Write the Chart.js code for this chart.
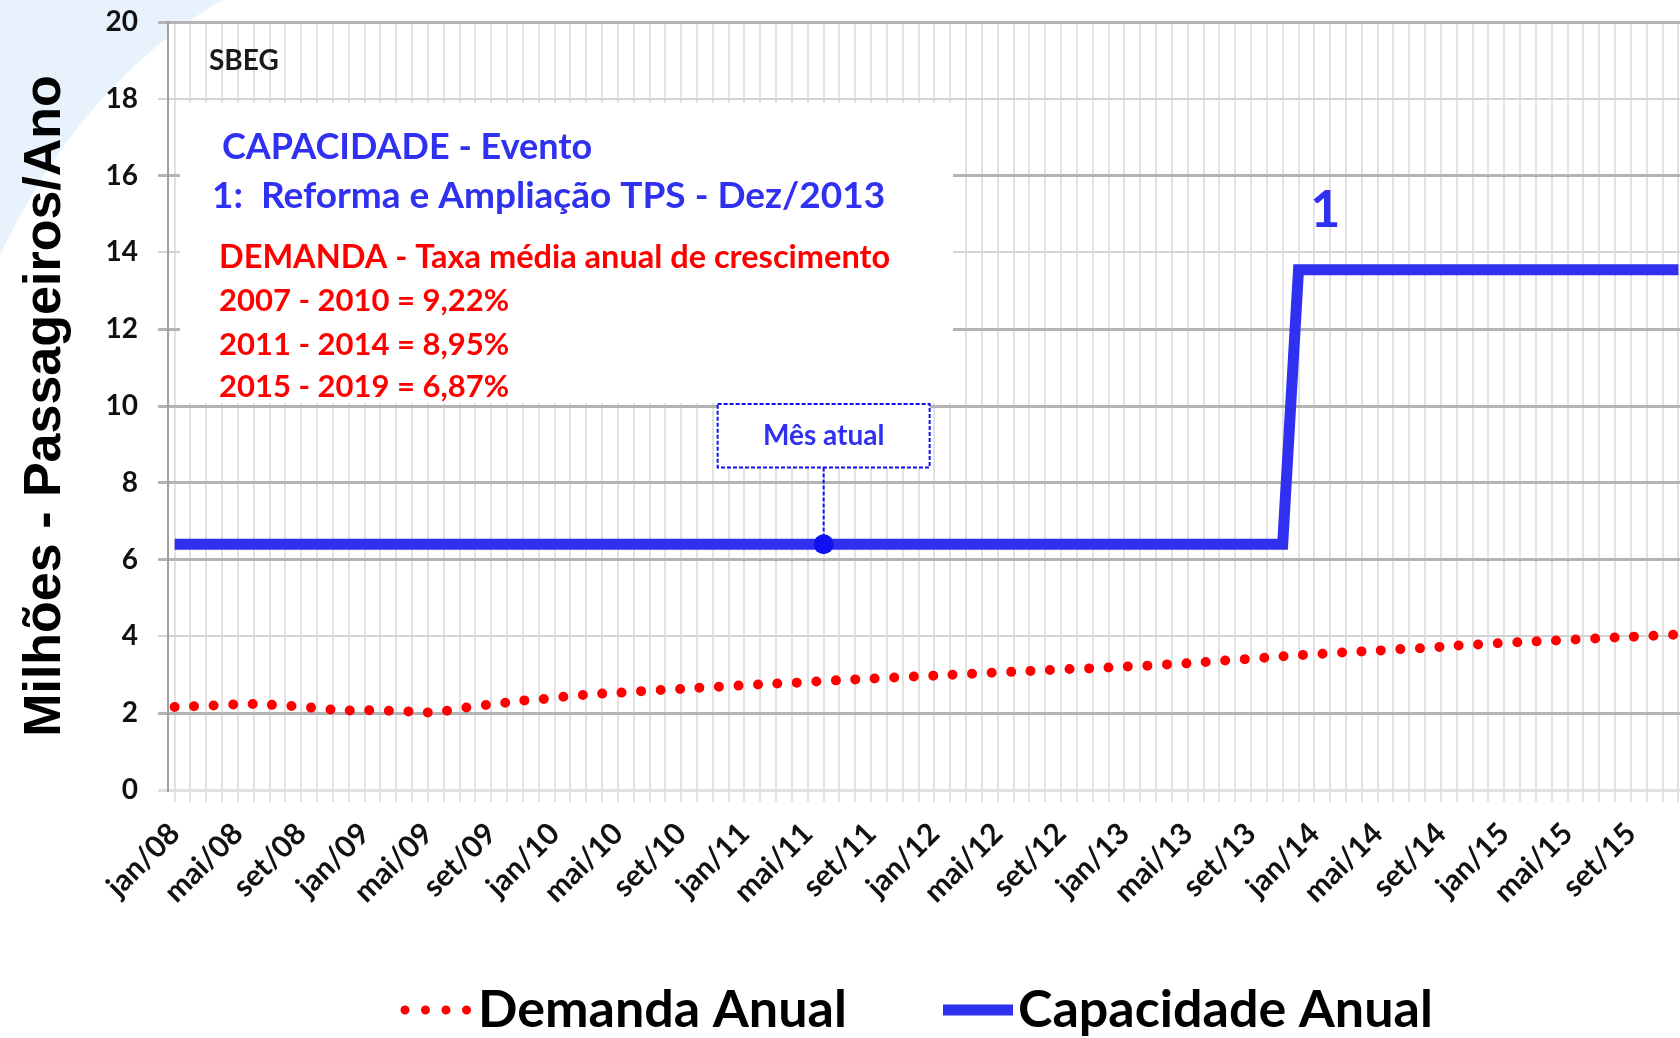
<!DOCTYPE html>
<html>
<head>
<meta charset="utf-8">
<script src="https://cdn.jsdelivr.net/npm/chart.js@4.4.1/dist/chart.umd.min.js"></script>
<style>
html, body { margin: 0; padding: 0; background: #fff; }
#wrap { width: 1680px; height: 1038px; }
</style>
</head>
<body>
<div id="wrap"><canvas id="chart" width="1680" height="1038"></canvas></div>
<script>
// month labels jan/08 .. dez/15
const monthNames = ['jan', 'fev', 'mar', 'abr', 'mai', 'jun', 'jul', 'ago', 'set', 'out', 'nov', 'dez'];
const years = ['08', '09', '10', '11', '12', '13', '14', '15'];
const months = [];
years.forEach(y => monthNames.forEach(m => months.push(m + '/' + y)));

// Demanda Anual (milhoes de passageiros), one value per month
const demanda = [
    2.16, 2.18, 2.19, 2.21, 2.23, 2.24, 2.22, 2.20, 2.17, 2.13, 2.09, 2.07,
    2.08, 2.07, 2.06, 2.04, 2.02, 2.05, 2.12, 2.18, 2.23, 2.28, 2.33, 2.36,
    2.40, 2.45, 2.48, 2.51, 2.53, 2.56, 2.59, 2.61, 2.63, 2.66, 2.68, 2.70,
    2.73, 2.75, 2.77, 2.79, 2.81, 2.84, 2.86, 2.88, 2.90, 2.92, 2.94, 2.96,
    2.98, 3.00, 3.02, 3.04, 3.06, 3.08, 3.10, 3.12, 3.14, 3.16, 3.17, 3.19,
    3.21, 3.23, 3.25, 3.28, 3.30, 3.33, 3.36, 3.39, 3.42, 3.45, 3.48, 3.51,
    3.54, 3.56, 3.59, 3.61, 3.63, 3.66, 3.68, 3.70, 3.73, 3.76, 3.78, 3.81,
    3.83, 3.85, 3.87, 3.89, 3.91, 3.93, 3.95, 3.97, 3.99, 4.01, 4.03, 4.05
];

// Capacidade Anual (milhoes de passageiros)
const capacidade = [
    6.4, 6.4, 6.4, 6.4, 6.4, 6.4, 6.4, 6.4, 6.4, 6.4, 6.4, 6.4,
    6.4, 6.4, 6.4, 6.4, 6.4, 6.4, 6.4, 6.4, 6.4, 6.4, 6.4, 6.4,
    6.4, 6.4, 6.4, 6.4, 6.4, 6.4, 6.4, 6.4, 6.4, 6.4, 6.4, 6.4,
    6.4, 6.4, 6.4, 6.4, 6.4, 6.4, 6.4, 6.4, 6.4, 6.4, 6.4, 6.4,
    6.4, 6.4, 6.4, 6.4, 6.4, 6.4, 6.4, 6.4, 6.4, 6.4, 6.4, 6.4,
    6.4, 6.4, 6.4, 6.4, 6.4, 6.4, 6.4, 6.4, 6.4, 6.4, 6.4, 13.55,
    13.55, 13.55, 13.55, 13.55, 13.55, 13.55, 13.55, 13.55, 13.55, 13.55, 13.55, 13.55,
    13.55, 13.55, 13.55, 13.55, 13.55, 13.55, 13.55, 13.55, 13.55, 13.55, 13.55, 13.55
];

const yTicks = [0, 2, 4, 6, 8, 10, 12, 14, 16, 18, 20];
const mesAtual = 'jun/11';
const eventoLabel = '1';

const blue = '#3030f0';
const red = '#ff0000';
const FONT = 'Lato, "Open Sans", sans-serif';

const notes = [
    { text: 'SBEG', x: 209, y: 61, size: 28, color: '#1a1a1a' },
    { text: 'CAPACIDADE - Evento', x: 222, y: 147, size: 36, color: blue },
    { text: '1:  Reforma e Ampliação TPS - Dez/2013', x: 212, y: 196, size: 37, color: blue },
    { text: 'DEMANDA - Taxa média anual de crescimento', x: 219, y: 258, size: 32.5, color: red },
    { text: '2007 - 2010 = 9,22%', x: 219, y: 301, size: 31, color: red },
    { text: '2011 - 2014 = 8,95%', x: 219, y: 345, size: 31, color: red },
    { text: '2015 - 2019 = 6,87%', x: 219, y: 387, size: 31, color: red }
];

const decor = {
    id: 'decor',
    beforeDraw(chart) {
        const { ctx, chartArea: a, width, height } = chart;
        ctx.save();
        ctx.fillStyle = '#fff';
        ctx.fillRect(0, 0, width, height);
        // light blue slide shape top-left
        ctx.fillStyle = '#e7f2fc';
        ctx.beginPath();
        ctx.moveTo(0, 0);
        ctx.lineTo(222, 0);
        ctx.quadraticCurveTo(80, 85, 0, 255);
        ctx.closePath();
        ctx.fill();
        ctx.fillStyle = '#fff';
        ctx.fillRect(a.left, a.top, a.right - a.left, a.bottom - a.top);
        ctx.restore();
    },
    beforeDatasetsDraw(chart) {
        const { ctx, chartArea: a, scales: { y } } = chart;
        ctx.save();
        // white text box hiding grid
        const top = y.getPixelForValue(17.9), bottom = y.getPixelForValue(10.08);
        ctx.fillStyle = '#fff';
        ctx.fillRect(a.left + 12, top, 773, bottom - top);
        ctx.textBaseline = 'middle';
        ctx.textAlign = 'left';
        notes.forEach(n => {
            ctx.font = 'bold ' + n.size + 'px ' + FONT;
            ctx.fillStyle = n.color;
            ctx.fillText(n.text, n.x, n.y);
        });
        ctx.restore();
    },
    afterDatasetsDraw(chart) {
        const { ctx, scales: { x, y } } = chart;
        const i = months.indexOf(mesAtual);
        const px = x.getPixelForValue(i), py = y.getPixelForValue(capacidade[i]);
        const bt = y.getPixelForValue(10.05), bb = y.getPixelForValue(8.4);
        ctx.save();
        // callout
        ctx.fillStyle = '#fff';
        ctx.fillRect(px - 106, bt, 212, bb - bt);
        ctx.strokeStyle = '#1010f0';
        ctx.lineWidth = 2;
        ctx.setLineDash([4, 2]);
        ctx.strokeRect(px - 106, bt, 212, bb - bt);
        ctx.beginPath();
        ctx.moveTo(px, bb);
        ctx.lineTo(px, py);
        ctx.stroke();
        ctx.setLineDash([]);
        ctx.fillStyle = '#1010f0';
        ctx.beginPath();
        ctx.arc(px, py, 10, 0, Math.PI * 2);
        ctx.fill();
        ctx.font = 'bold 28px ' + FONT;
        ctx.textAlign = 'center';
        ctx.textBaseline = 'middle';
        ctx.fillStyle = blue;
        ctx.fillText('Mês atual', px, (bt + bb) / 2);
        // event number
        ctx.font = 'bold 52px ' + FONT;
        ctx.fillText(eventoLabel, x.getPixelForValue(72.7), y.getPixelForValue(15.1));
        ctx.restore();
    },
    afterDraw(chart) {
        const { ctx } = chart;
        const ly = 1010;
        ctx.save();
        // Demanda legend symbol
        ctx.strokeStyle = red;
        ctx.lineWidth = 9;
        ctx.lineCap = 'round';
        ctx.setLineDash([0, 20.5]);
        ctx.beginPath();
        ctx.moveTo(405, ly);
        ctx.lineTo(470, ly);
        ctx.stroke();
        ctx.setLineDash([]);
        // Capacidade legend symbol
        ctx.strokeStyle = blue;
        ctx.lineWidth = 11;
        ctx.lineCap = 'butt';
        ctx.beginPath();
        ctx.moveTo(943, ly);
        ctx.lineTo(1013, ly);
        ctx.stroke();
        ctx.font = 'bold 52px ' + FONT;
        ctx.fillStyle = '#000';
        ctx.textBaseline = 'middle';
        ctx.fillText('Demanda Anual', 478, ly);
        ctx.fillText('Capacidade Anual', 1018, ly);
        ctx.restore();
    }
};

const ctx = document.getElementById('chart').getContext('2d');
const chart = new Chart(ctx, {
    type: 'line',
    data: {
        datasets: [{
            label: 'Demanda Anual',
            data: demanda.map((v, i) => ({ x: i, y: v })),
            borderColor: red,
            borderWidth: 10,
            borderDash: [0, 19.5],
            borderCapStyle: 'round',
            pointRadius: 0,
            tension: 0.3,
            fill: false
        }, {
            label: 'Capacidade Anual',
            data: capacidade.map((v, i) => ({ x: i, y: v })),
            borderColor: blue,
            borderWidth: 11,
            pointRadius: 0,
            tension: 0,
            fill: false
        }]
    },
    options: {
        responsive: false,
        devicePixelRatio: 1,
        animation: false,
        layout: { padding: { top: 22, right: 0, left: 0, bottom: 0 } },
        scales: {
            x: {
                type: 'linear',
                min: -0.42,
                max: 95.1,
                afterBuildTicks: s => { s.ticks = months.map((m, i) => ({ value: i })); },
                grid: { color: '#e2e2e2', lineWidth: 2, tickLength: 12 },
                border: { color: '#e0e0e0', width: 3 },
                ticks: {
                    autoSkip: false,
                    maxRotation: 45,
                    minRotation: 45,
                    padding: 14,
                    color: '#111',
                    font: { family: FONT, weight: 'bold', size: 30 },
                    callback: v => v % 4 === 0 ? months[v] : ''
                },
                afterFit: s => { s.height = 248; s.paddingLeft = 0; s.paddingRight = 0; }
            },
            y: {
                min: 0,
                max: 20,
                afterBuildTicks: s => { s.ticks = yTicks.map(v => ({ value: v })); },
                ticks: {
                    color: '#111',
                    padding: 20,
                    font: { family: FONT, weight: 'bold', size: 28, lineHeight: 1 }
                },
                grid: {
                    color: c => {
                        const v = c.tick.value;
                        if (v === 0) return '#e0e0e0';
                        if (v === 4 || v === 14 || v === 18) return '#d4d4d4';
                        return '#b4b4b4';
                    },
                    lineWidth: c => (c.tick.value === 4 || c.tick.value === 14 || c.tick.value === 18) ? 2 : 3,
                    tickLength: 10
                },
                border: { color: '#a0a0a0', width: 2 },
                title: {
                    display: true,
                    text: 'Milhões - Passageiros/Ano',
                    color: '#000',
                    font: { family: '"Liberation Sans", Arial, sans-serif', weight: 'bold', size: 52 },
                    padding: { top: 14, bottom: 0 }
                },
                afterFit: s => { s.width = 168; s.paddingTop = 0; s.paddingBottom = 0; }
            }
        },
        plugins: {
            legend: { display: false },
            tooltip: { enabled: false }
        }
    },
    plugins: [decor]
});
</script>
</body>
</html>
